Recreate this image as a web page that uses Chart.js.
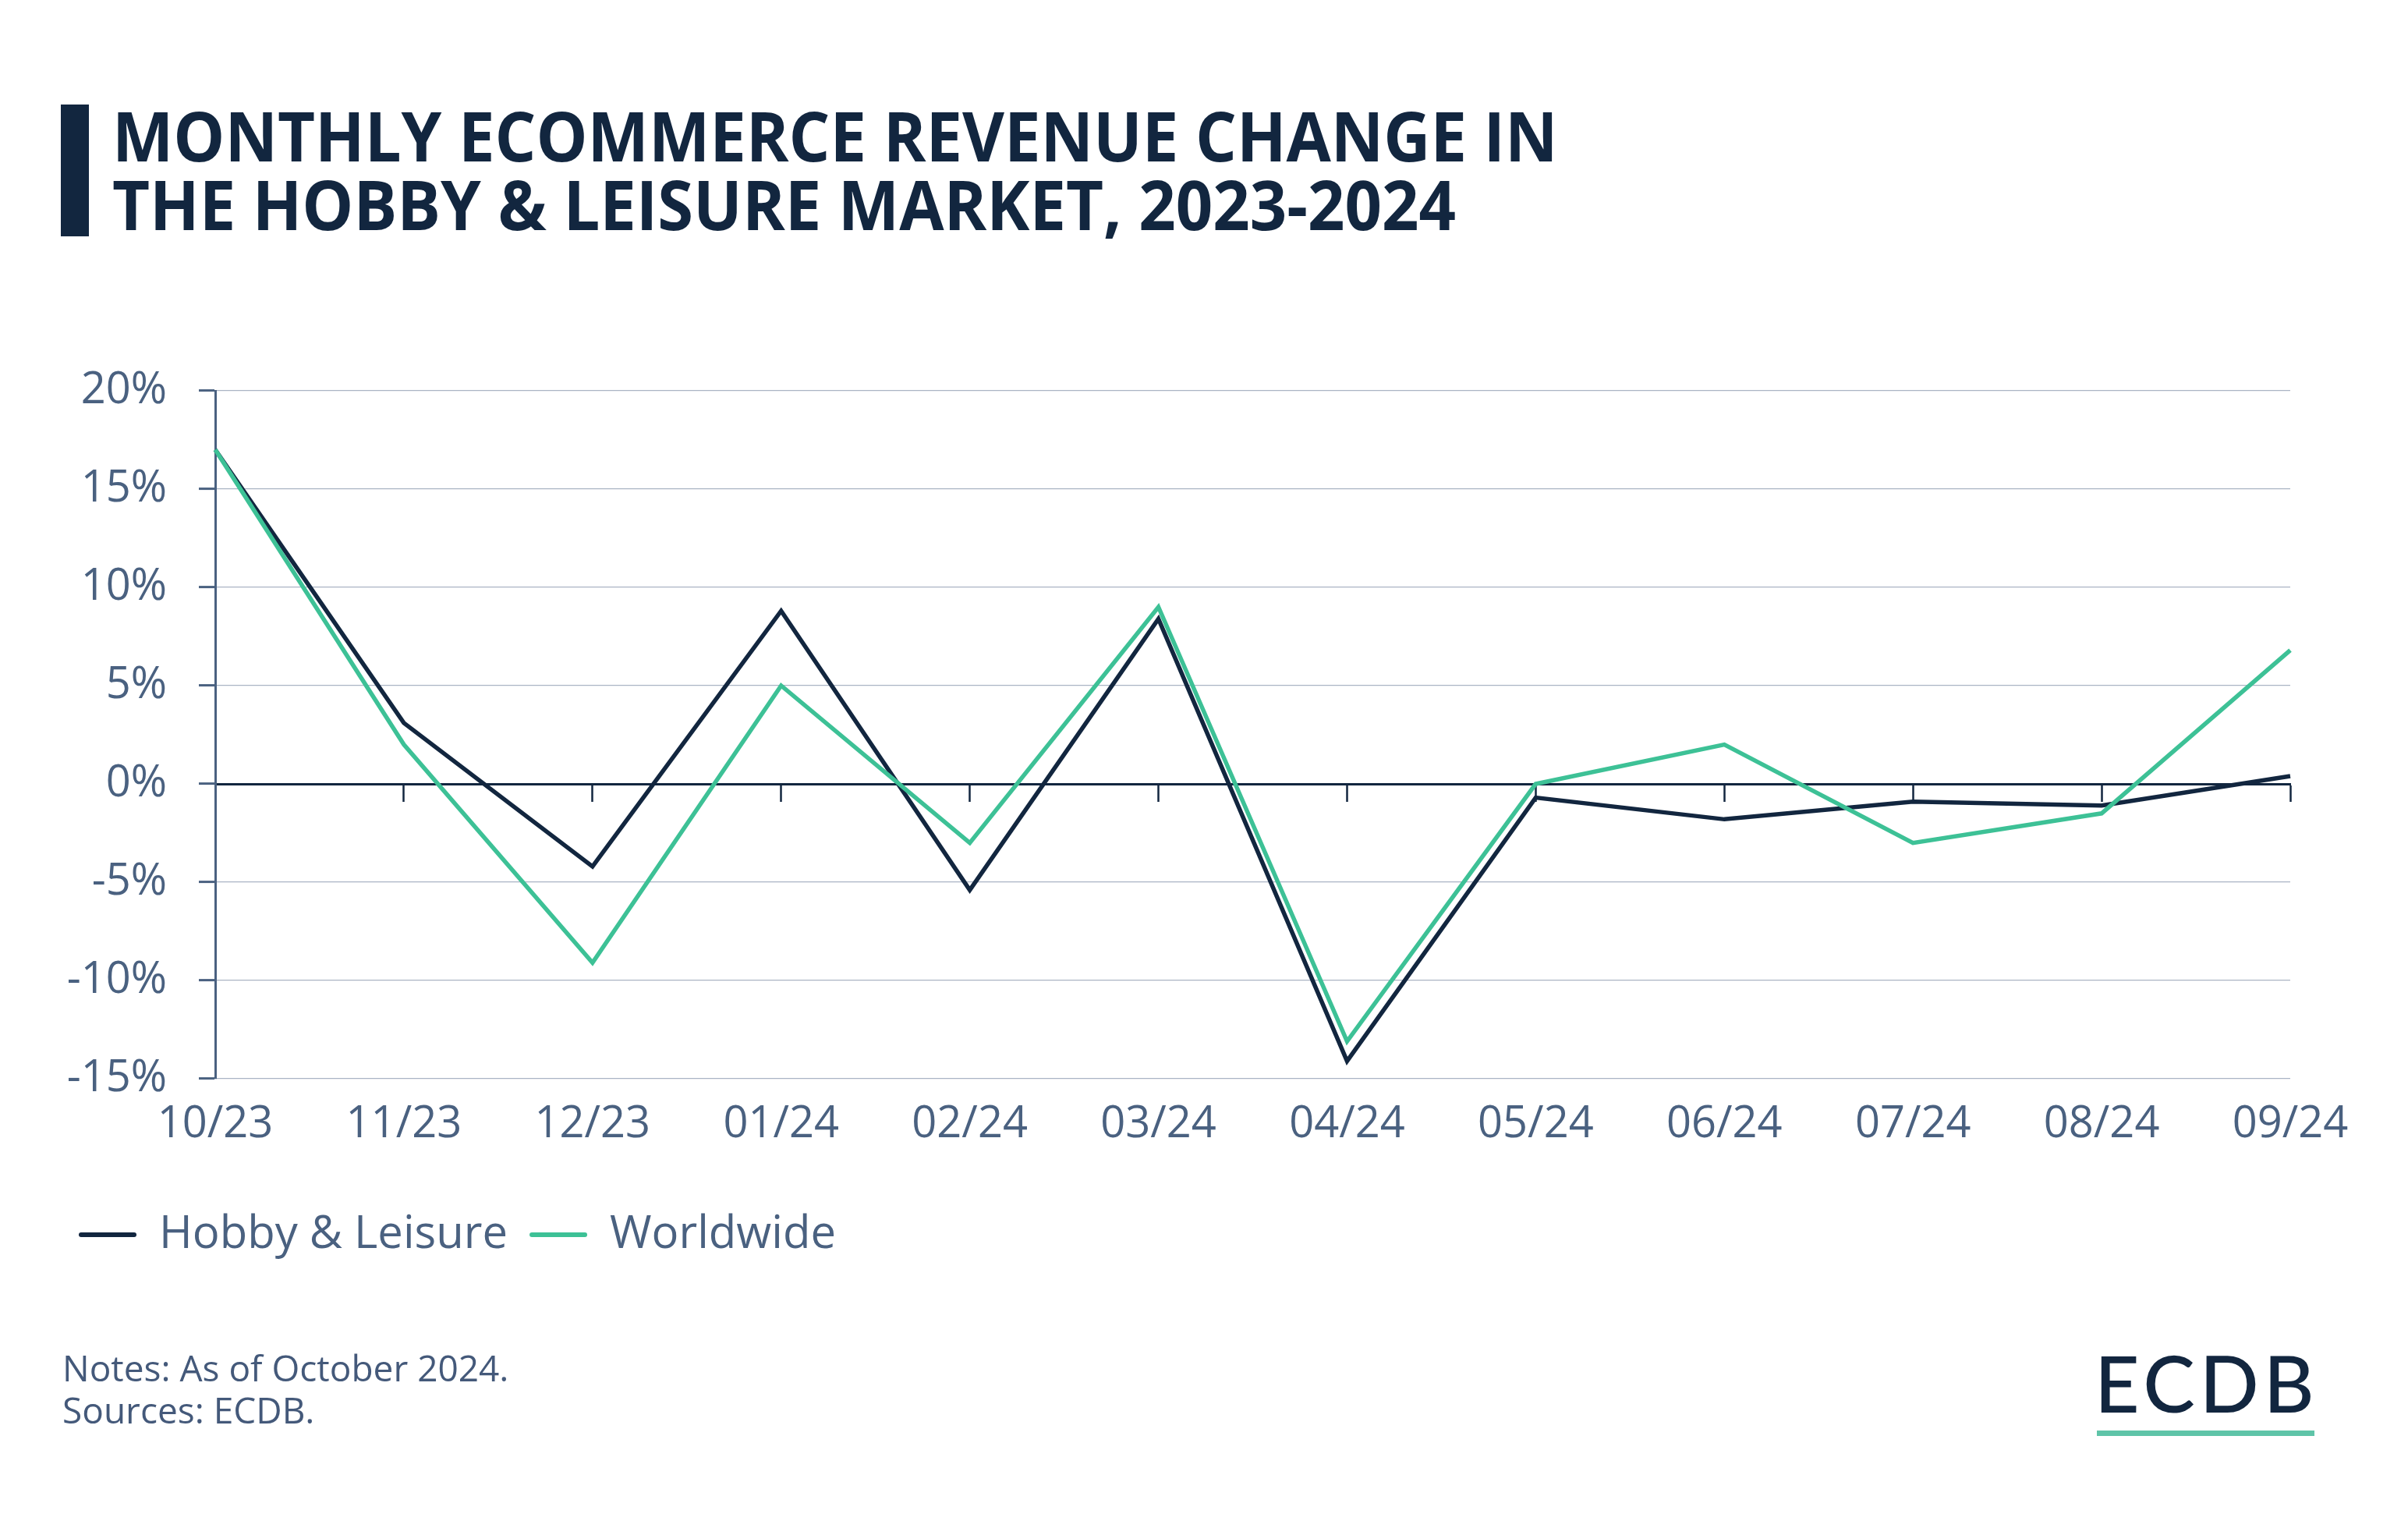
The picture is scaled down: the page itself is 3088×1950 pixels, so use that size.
<!DOCTYPE html>
<html>
<head>
<meta charset="utf-8">
<script src="https://cdn.jsdelivr.net/npm/chart.js@4/dist/chart.umd.min.js"></script>
<style>
  html, body { margin: 0; padding: 0; background: #ffffff; }
  #wrap { position: relative; width: 3088px; height: 1950px; overflow: hidden; background: #fff; }
  #c { position: absolute; left: 0; top: 0; }
  .bar { position: absolute; left: 78px; top: 134px; width: 36px; height: 169px; background: #12263f; }
  .title { position: absolute; left: 144px; top: 129px; font-family: "Open Sans", sans-serif; font-weight: 700;
           font-size: 88px; line-height: 88px; color: #12263f; white-space: nowrap;
           transform: scaleX(0.944); transform-origin: 0 0; }
  .notes { position: absolute; left: 80px; top: 1726px; font-family: "Open Sans", sans-serif; font-size: 46px;
           line-height: 54px; color: #44597a; white-space: nowrap; }
  .logo { position: absolute; left: 2686px; top: 1722px; font-family: "Lato", sans-serif; font-weight: 500;
          font-size: 100px; line-height: 100px; color: #12263f; letter-spacing: 6px; white-space: nowrap; }
  .logoline { position: absolute; left: 2689px; top: 1834px; width: 279px; height: 7px; background: #5fc4a8; }
</style>
</head>
<body>
<div id="wrap">
  <canvas id="c" width="3088" height="1950"></canvas>
  <div class="bar"></div>
  <div class="title">MONTHLY ECOMMERCE REVENUE CHANGE IN<br>THE HOBBY &amp; LEISURE MARKET, 2023-2024</div>
  <div class="notes">Notes: As of October 2024.<br>Sources: ECDB.</div>
  <div class="logo">ECDB</div>
  <div class="logoline"></div>
</div>
<script>
const categories = ["10/23","11/23","12/23","01/24","02/24","03/24","04/24","05/24","06/24","07/24","08/24","09/24"];
const hobbyLeisure = [17.0, 3.1, -4.2, 8.8, -5.4, 8.4, -14.1, -0.7, -1.8, -0.9, -1.1, 0.4];
const worldwide = [17.0, 2.0, -9.1, 5.0, -3.0, 9.0, -13.1, 0.0, 2.0, -3.0, -1.5, 6.8];
const seriesNames = ["Hobby & Leisure", "Worldwide"];
const yTicks = [-15, -10, -5, 0, 5, 10, 15, 20];

const NAVY = "#12263f";
const TEAL = "#3dc196";
const SLATE = "#4a6180";
const GRID = "#aab4c4";

Chart.defaults.font.family = "'Open Sans', sans-serif";

new Chart(document.getElementById("c"), {
  type: "line",
  data: {
    labels: categories,
    datasets: [
      { label: seriesNames[0], data: hobbyLeisure, borderColor: NAVY, backgroundColor: NAVY,
        borderWidth: 5.5, pointRadius: 0, tension: 0, order: 2, xAxisID: "x" },
      { label: seriesNames[1], data: worldwide, borderColor: TEAL, backgroundColor: TEAL,
        borderWidth: 5.5, pointRadius: 0, tension: 0, order: 1, xAxisID: "x" }
    ]
  },
  options: {
    responsive: false,
    devicePixelRatio: 1,
    animation: false,
    layout: { padding: { left: 73, right: 151, top: 501, bottom: 328 } },
    plugins: {
      tooltip: { enabled: false },
      legend: {
        position: "bottom",
        align: "start",
        labels: {
          color: SLATE,
          font: { size: 58 },
          boxWidth: 74,
          boxHeight: 6,
          padding: 28,
          useBorderRadius: true,
          borderRadius: 3,
          sort: (a, b) => a.datasetIndex - b.datasetIndex,
          generateLabels: (chart) => Chart.defaults.plugins.legend.labels.generateLabels(chart)
            .map(l => Object.assign(l, { lineWidth: 0, fillStyle: l.strokeStyle }))
        }
      }
    },
    scales: {
      x: {
        type: "category",
        position: "bottom",
        grid: { display: false },
        border: { display: false },
        ticks: { color: SLATE, font: { size: 56 }, padding: 17, maxRotation: 0, autoSkip: false },
        afterFit: (s) => { s.height = 143; }
      },
      xZero: {
        type: "category",
        labels: categories,
        position: { y: 0 },
        grid: { drawOnChartArea: false, drawTicks: true, tickLength: 21, color: NAVY, tickColor: NAVY, tickWidth: 2.5 },
        border: { display: true, color: NAVY, width: 3 },
        ticks: { display: false }
      },
      y: {
        min: -15,
        max: 20,
        afterBuildTicks: (s) => { s.ticks = yTicks.map(v => ({ value: v })); },
        grid: { color: GRID, lineWidth: 1.2, tickLength: 21, tickColor: SLATE, tickWidth: 3 },
        border: { display: true, color: SLATE, width: 3 },
        ticks: { color: SLATE, font: { size: 56 }, padding: 41, callback: (v) => v + "%" },
        afterFit: (s) => { s.width = 203; }
      }
    }
  }
});
</script>
</body>
</html>
